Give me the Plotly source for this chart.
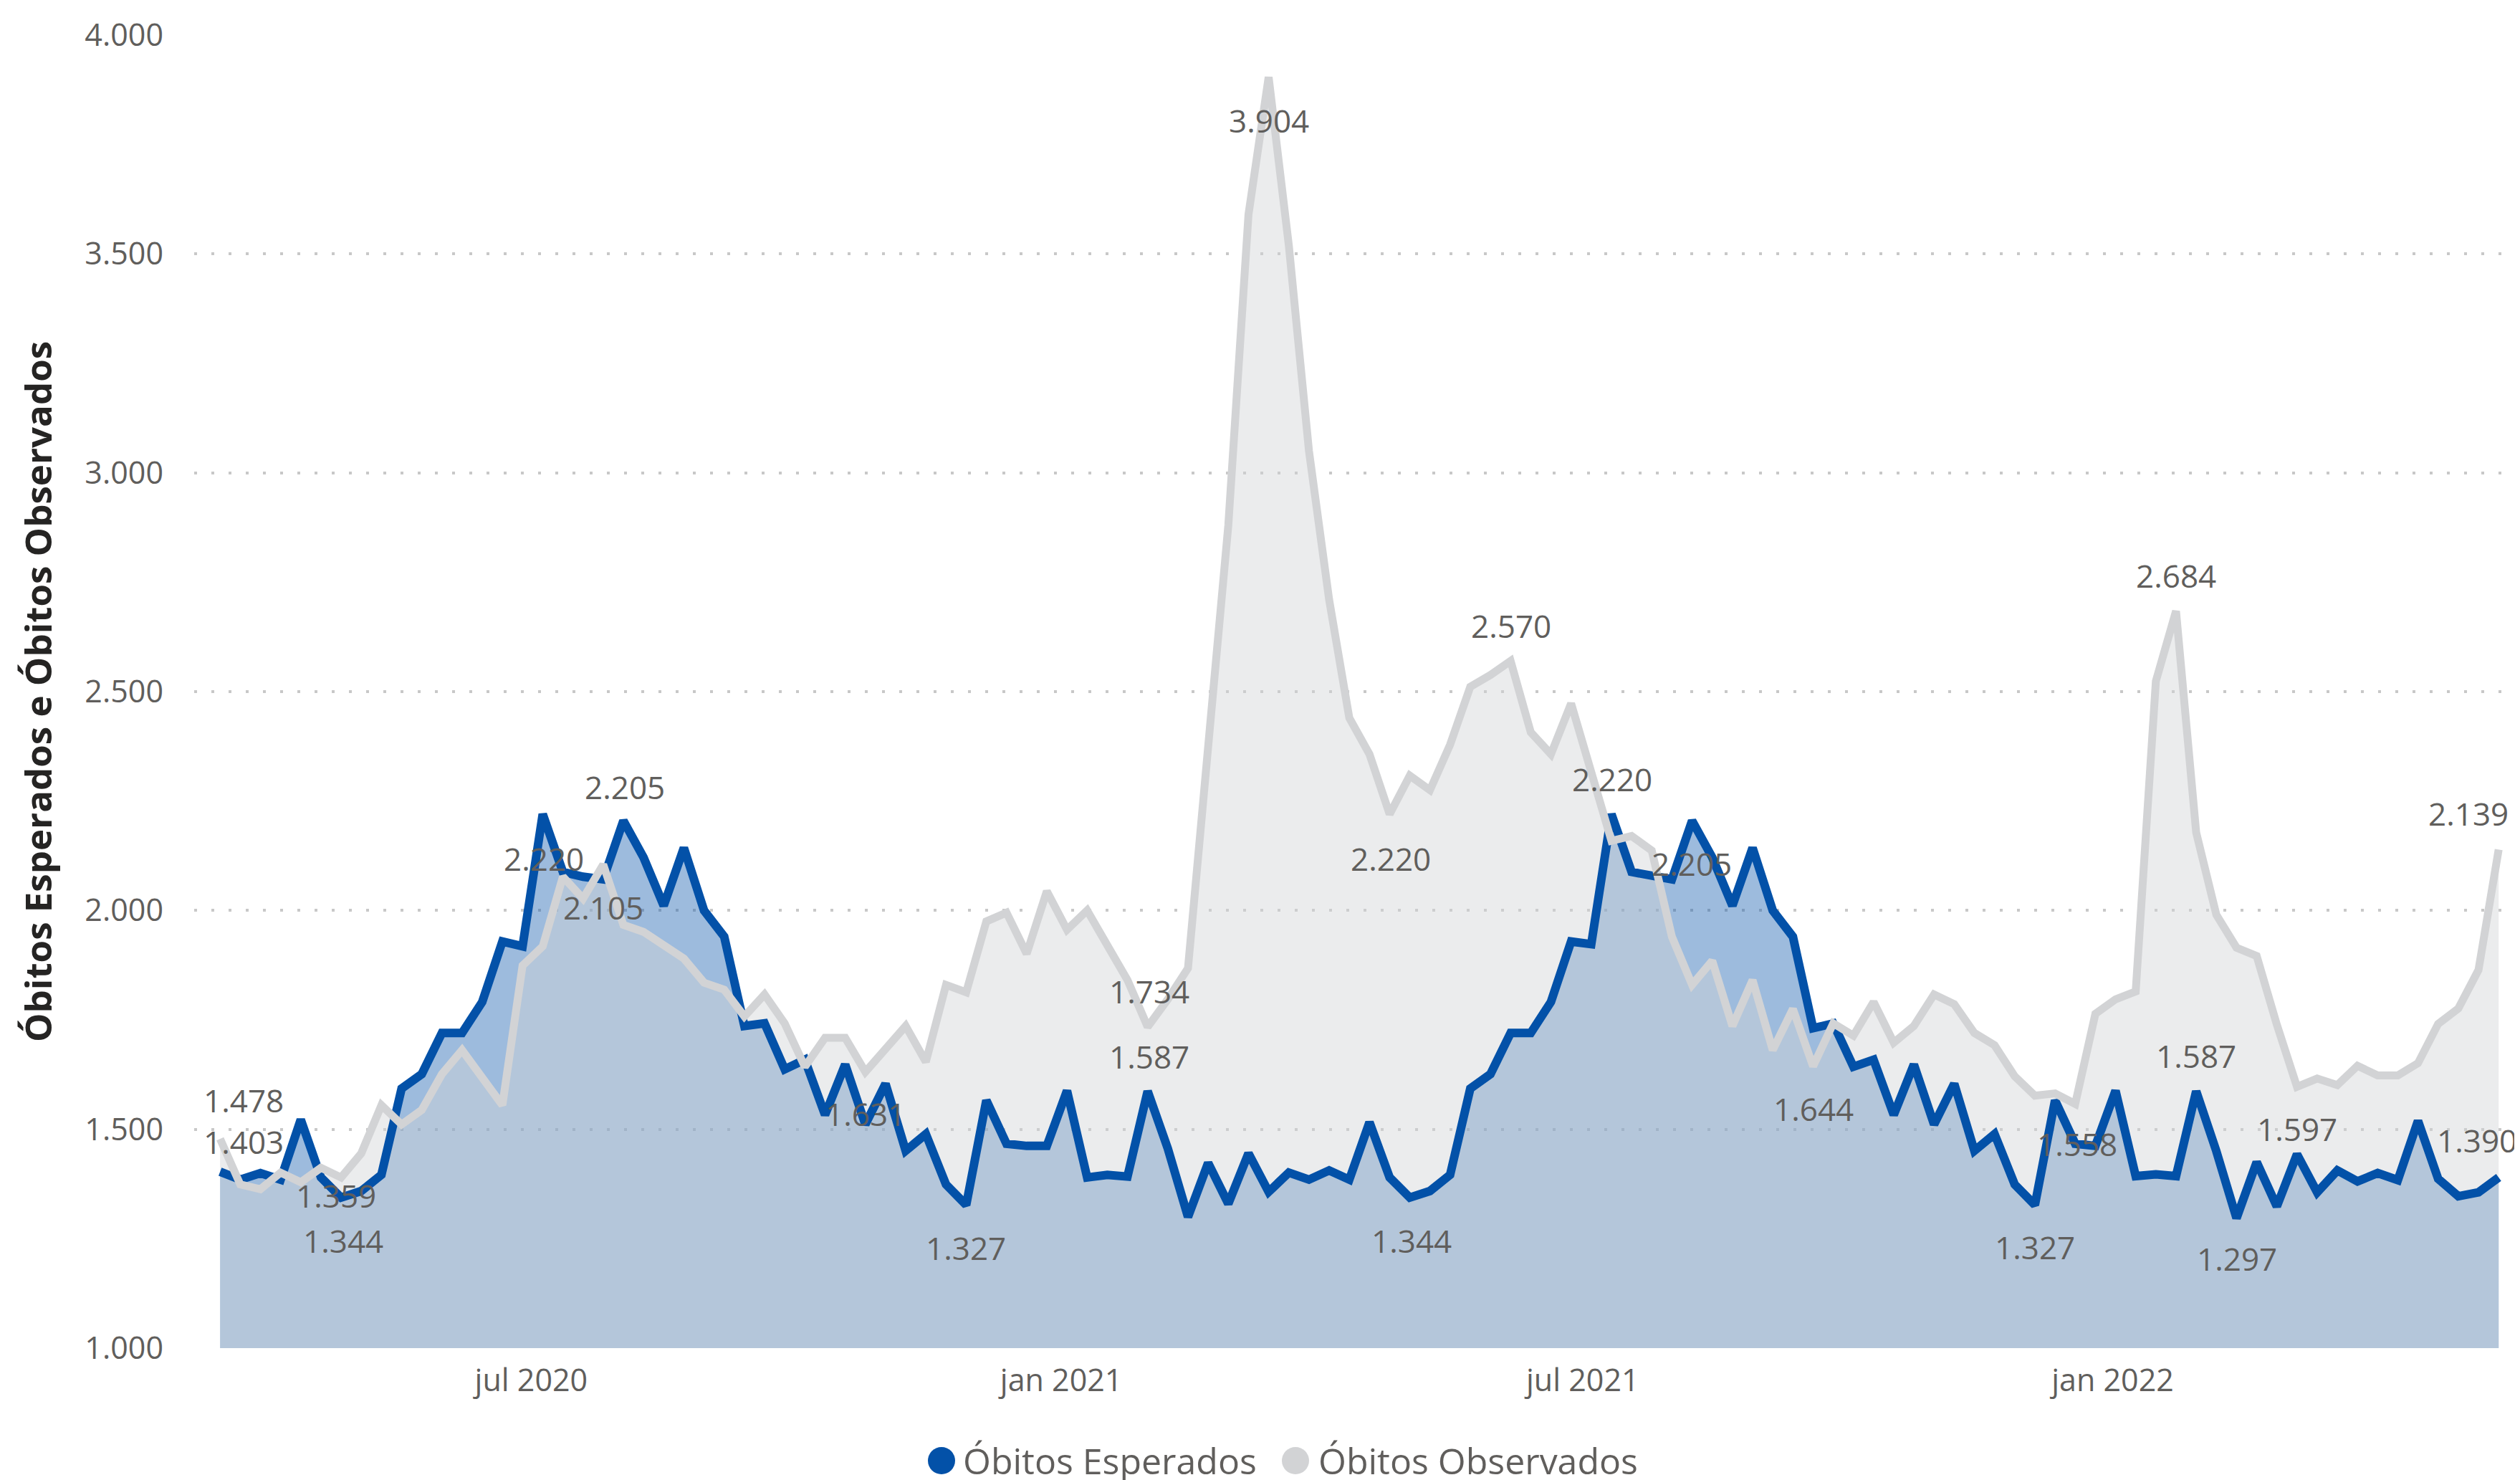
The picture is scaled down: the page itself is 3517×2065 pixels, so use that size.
import pandas as pd
import plotly.graph_objects as go

# ---------------- data ----------------
START_DATE = "2020-03-15"
N_WEEKS = 114

obitos_esperados = [
    1403, 1385, 1400, 1385, 1522, 1390, 1344, 1359, 1396, 1593,
    1626, 1720, 1720, 1791, 1929, 1918, 2220, 2088, 2077, 2071,
    2205, 2121, 2011, 2143, 2000, 1940, 1736, 1742, 1637, 1659,
    1533, 1648, 1511, 1604, 1451, 1489, 1374, 1327, 1566, 1467,
    1462, 1462, 1588, 1390, 1396, 1392, 1587, 1456, 1300, 1423,
    1330, 1445, 1357, 1401, 1385, 1406, 1385, 1516, 1390, 1344,
    1359, 1396, 1593, 1626, 1720, 1720, 1791, 1929, 1923, 2220,
    2088, 2077, 2071, 2205, 2121, 2011, 2143, 2000, 1940, 1731,
    1742, 1643, 1659, 1533, 1648, 1511, 1604, 1451, 1489, 1374,
    1327, 1566, 1467, 1462, 1588, 1393, 1397, 1393, 1587, 1450,
    1297, 1425, 1324, 1443, 1356, 1406, 1381, 1400, 1384, 1519,
    1387, 1347, 1356, 1390,
]

obitos_observados = [
    1478, 1374, 1363, 1401, 1379, 1412, 1390, 1445, 1555, 1511,
    1544, 1626, 1681, 1615, 1555, 1874, 1918, 2077, 2027, 2105,
    1967, 1951, 1923, 1890, 1835, 1819, 1758, 1808, 1742, 1643,
    1709, 1709, 1631, 1687, 1736, 1654, 1830, 1813, 1975, 1995,
    1901, 2044, 1956, 2000, 1918, 1841, 1734, 1797, 1868, 2380,
    2880, 3590, 3904, 3520, 3050, 2710, 2440, 2357, 2220, 2308,
    2275, 2379, 2511, 2538, 2570, 2407, 2357, 2473, 2313, 2159,
    2170, 2137, 1940, 1830, 1885, 1736, 1841, 1681, 1775, 1644,
    1742, 1714, 1791, 1698, 1736, 1808, 1786, 1720, 1692, 1621,
    1577, 1582, 1558, 1764, 1797, 1815, 2524, 2684, 2178, 1990,
    1915, 1896, 1739, 1597, 1616, 1601, 1645, 1623, 1623, 1651,
    1741, 1776, 1864, 2139,
]

x_tick_dates = ["2020-07-01", "2021-01-01", "2021-07-01", "2022-01-01"]
x_tick_labels = ["jul 2020", "jan 2021", "jul 2021", "jan 2022"]
y_tick_values = [1000, 1500, 2000, 2500, 3000, 3500, 4000]

series_names = ["Óbitos Esperados", "Óbitos Observados"]

# labelled points: (series, 1-based week index, x shift px, y shift px)
labelled_points = [
    ("obs", 1, 33, 54), ("esp", 1, 33, 42), ("esp", 8, -35, -6), ("esp", 7, 3, -60),
    ("esp", 17, 2, -62), ("obs", 20, 0, -60), ("esp", 21, 2, 47), ("obs", 33, 0, -58),
    ("esp", 38, 0, -60), ("esp", 47, 2, 49), ("obs", 47, 2, 50), ("obs", 53, 0, -60),
    ("obs", 59, 2, -62), ("esp", 60, 2, -60), ("obs", 65, 1, 49), ("esp", 70, 1, 49),
    ("esp", 74, -1, -60), ("obs", 80, 1, -59), ("esp", 91, 0, -59), ("obs", 93, 3, -56),
    ("obs", 98, 0, 50), ("esp", 99, 0, 50), ("esp", 101, 1, -56), ("obs", 104, 0, -59),
    ("esp", 114, -30, 52), ("obs", 114, -42, 50),
]

# ---------------- styling ----------------
W, H = 3517, 2065
M_L, M_R, M_T, M_B = 263, 0, 41, 192
BLUE = "#0351A8"
GREY = "#D2D3D5"
TXT = "#605E5C"
FONT = "Segoe UI, Open Sans, sans-serif"

dates = pd.date_range(START_DATE, periods=N_WEEKS, freq="7D")

fig = go.Figure()
# areas first
fig.add_trace(go.Scatter(x=dates, y=obitos_esperados, mode="none", fill="tozeroy",
                         fillcolor="rgba(3,81,168,0.39)", hoverinfo="skip", showlegend=False))
fig.add_trace(go.Scatter(x=dates, y=obitos_observados, mode="none", fill="tozeroy",
                         fillcolor="rgba(210,211,213,0.44)", hoverinfo="skip", showlegend=False))
# lines on top
fig.add_trace(go.Scatter(x=dates, y=obitos_esperados, mode="lines", name=series_names[0],
                         line=dict(color=BLUE, width=12), showlegend=False))
fig.add_trace(go.Scatter(x=dates, y=obitos_observados, mode="lines", name=series_names[1],
                         line=dict(color=GREY, width=11), showlegend=False))


def fmt(v):
    return f"{v:,}".replace(",", ".")


series_map = {"esp": obitos_esperados, "obs": obitos_observados}
annotations = []
for s, idx, dx, dy in labelled_points:
    v = series_map[s][idx - 1]
    annotations.append(dict(x=dates[idx - 1], y=v, xref="x", yref="y", text=fmt(v),
                            showarrow=False, xshift=dx, yshift=dy,
                            xanchor="center", yanchor="middle",
                            font=dict(family=FONT, size=44, color=TXT)))

plot_w = W - M_L - M_R
plot_h = H - M_T - M_B


def px_to_paper_x(px):
    return (px - M_L) / plot_w


def px_to_paper_y(py):
    return (H - M_B - py) / plot_h


# y axis title
annotations.append(dict(x=px_to_paper_x(44), y=0.5, xref="paper", yref="paper",
                        text="<b>Óbitos Esperados e Óbitos Observados</b>", textangle=-90,
                        showarrow=False, xanchor="center", yanchor="middle",
                        font=dict(family=FONT, size=51, color="#252423")))

# custom legend
legend_y = px_to_paper_y(2030)
shapes = []
for name, color, cx, tx in [(series_names[0], BLUE, 1306, 1334), (series_names[1], GREY, 1800, 1830)]:
    shapes.append(dict(type="circle", xref="paper", yref="paper", xsizemode="pixel", ysizemode="pixel",
                       xanchor=px_to_paper_x(cx), yanchor=legend_y, x0=-19, x1=19, y0=-19, y1=19,
                       fillcolor=color, line=dict(width=0)))
    annotations.append(dict(x=px_to_paper_x(tx), y=legend_y, xref="paper", yref="paper", text=name,
                            showarrow=False, xanchor="left", yanchor="middle",
                            font=dict(family=FONT, size=50, color=TXT)))

fig.update_layout(
    width=W, height=H, autosize=False,
    margin=dict(l=M_L, r=M_R, t=M_T, b=M_B, pad=0),
    paper_bgcolor="white", plot_bgcolor="white",
    separators=",.",
    showlegend=False,
    hovermode=False,
    annotations=annotations,
    shapes=shapes,
    font=dict(family=FONT, color=TXT),
)
fig.update_xaxes(
    range=[pd.Timestamp(START_DATE) - pd.Timedelta(days=9),
           dates[-1] + pd.Timedelta(days=9.4)],
    tickvals=pd.to_datetime(x_tick_dates), ticktext=x_tick_labels,
    showgrid=False, zeroline=False, showline=False, ticks="",
    tickfont=dict(family=FONT, size=43, color=TXT), ticklabelstandoff=16,
)
fig.update_yaxes(
    range=[1000, 4000], tickvals=y_tick_values, tickformat=",d",
    showgrid=True, gridcolor="#C8C8C8", gridwidth=4, griddash="4px,20px",
    zeroline=False, showline=False, ticks="",
    tickfont=dict(family=FONT, size=43, color=TXT), ticklabelstandoff=42,
)

fig.write_html("out.html")
